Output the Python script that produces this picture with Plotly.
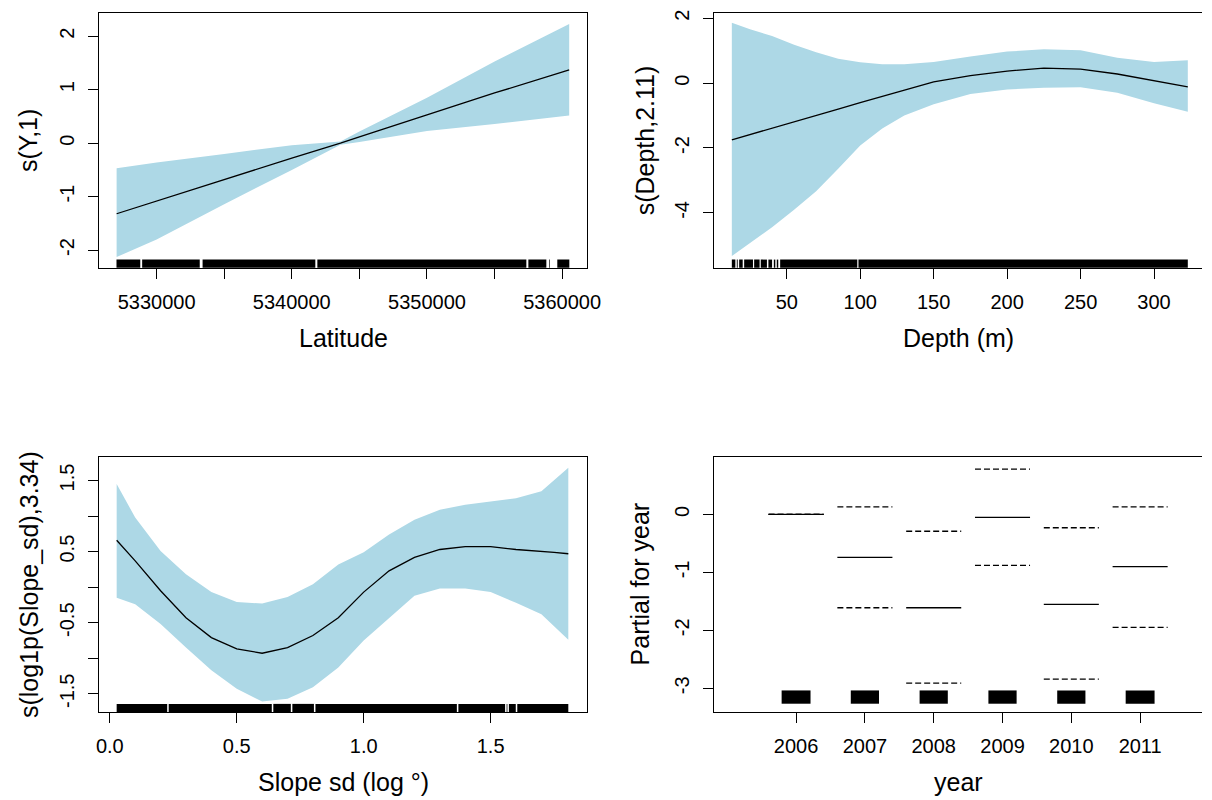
import plotly.graph_objects as go

# ---------------- data ----------------
# Panel 1: s(Y,1) vs Latitude
lat_x = [5327040, 5330000, 5335000, 5340000, 5343600, 5345000, 5350000, 5355000, 5360520]
lat_fit = [-1.32, -1.08, -0.68, -0.28, 0.00, 0.12, 0.53, 0.94, 1.37]
lat_upper = [-0.47, -0.36, -0.20, -0.04, 0.03, 0.22, 0.85, 1.53, 2.23]
lat_lower = [-2.13, -1.80, -1.14, -0.50, -0.03, 0.02, 0.23, 0.36, 0.52]
lat_rug = [(5327031, 5328790), (5328930, 5333190), (5333400, 5341740),
           (5341890, 5357350), (5357500, 5358830), (5359030, 5359080),
           (5359640, 5360530)]
lat_ticks = [5330000, 5340000, 5350000, 5360000]
lat_minor_ticks = [5335000, 5345000, 5355000]
lat_yticks = [-2, -1, 0, 1, 2]

# Panel 2: s(Depth,2.11) vs Depth
depth_x = [12.6, 25, 40, 55, 70, 85, 100, 115, 130, 150, 175, 200, 225, 250, 275, 300, 323]
depth_fit = [-1.75, -1.59, -1.40, -1.20, -1.00, -0.80, -0.60, -0.41, -0.22, 0.04, 0.23,
             0.37, 0.46, 0.43, 0.28, 0.07, -0.12]
depth_upper = [1.86, 1.66, 1.45, 1.18, 0.95, 0.75, 0.64, 0.58, 0.58, 0.65, 0.82,
               0.97, 1.04, 1.01, 0.78, 0.65, 0.70]
depth_lower = [-5.33, -4.93, -4.44, -3.90, -3.33, -2.64, -1.92, -1.40, -1.00, -0.65, -0.34,
               -0.20, -0.14, -0.13, -0.30, -0.62, -0.88]
depth_rug = [(12.6, 15.0), (16.0, 16.6), (17.6, 20.0), (21.0, 27.0), (27.8, 31.5),
             (32.3, 36.5), (37.5, 40.0), (41.2, 42.2), (43.2, 44.2), (45.5, 98.0),
             (98.8, 323.0)]
depth_ticks = [50, 100, 150, 200, 250, 300]
depth_yticks = [-4, -2, 0, 2]

# Panel 3: s(log1p(Slope_sd),3.34) vs Slope sd
slope_x = [0.027, 0.1, 0.2, 0.3, 0.4, 0.5, 0.6, 0.7, 0.8, 0.9, 1.0, 1.1, 1.2, 1.3,
           1.4, 1.5, 1.6, 1.7, 1.75, 1.806]
slope_fit = [0.66, 0.37, -0.05, -0.43, -0.71, -0.87, -0.93, -0.85, -0.68, -0.43, -0.07,
             0.23, 0.42, 0.53, 0.57, 0.57, 0.53, 0.51, 0.49, 0.47]
slope_upper = [1.45, 0.98, 0.51, 0.18, -0.07, -0.21, -0.23, -0.14, 0.04, 0.32, 0.49,
               0.74, 0.95, 1.09, 1.16, 1.20, 1.25, 1.35, 1.50, 1.68]
slope_lower = [-0.15, -0.24, -0.52, -0.85, -1.17, -1.43, -1.61, -1.57, -1.41, -1.13, -0.75,
               -0.43, -0.12, -0.02, -0.02, -0.07, -0.22, -0.38, -0.55, -0.74]
slope_rug = [(0.027, 0.226), (0.232, 0.638), (0.644, 0.713), (0.719, 0.804),
             (0.810, 1.367), (1.373, 1.557), (1.563, 1.566), (1.572, 1.599),
             (1.605, 1.806)]
slope_ticks = [0.0, 0.5, 1.0, 1.5]
slope_yticks = [-1.5, -0.5, 0.5, 1.5]
slope_minor_yticks = [-1.0, 0.0, 1.0]

# Panel 4: Partial for year
years = [2006, 2007, 2008, 2009, 2010, 2011]
year_fit = [0.00, -0.74, -1.61, -0.05, -1.55, -0.90]
year_upper = [0.00, 0.13, -0.29, 0.78, -0.23, 0.13]
year_lower = [0.00, -1.61, -2.91, -0.88, -2.84, -1.95]
year_rug_width = [0.42, 0.41, 0.41, 0.41, 0.41, 0.42]
year_yticks = [-3, -2, -1, 0]

# ---------------- style ----------------
W, H = 1212, 800
OFF = 8  # browser default body margin, compensated
BAND = "#ADD8E6"
FONT = "Liberation Sans, Arial, sans-serif"
TICK_FONT = 20
TITLE_FONT = 25
SEG_HALF = 0.4
RUG_FRAC = 0.032
YEAR_RUG_Y = (-3.265, -3.036)


def dom_x(a, b):
    return [(a - OFF) / W, min((b - OFF) / W, 1.0)]


def dom_y(top, bottom):
    return [1 - (bottom - OFF) / H, 1 - (top - OFF) / H]


fig = go.Figure()


def names(k):
    return ("x" if k == 1 else f"x{k}"), ("y" if k == 1 else f"y{k}")


def add_smooth(k, xs, fit, up, lo):
    xa, ya = names(k)
    fig.add_trace(go.Scatter(x=list(xs) + list(xs)[::-1], y=list(up) + list(lo)[::-1],
                             fill="toself", fillcolor=BAND, mode="lines",
                             line=dict(width=0, color=BAND), xaxis=xa, yaxis=ya,
                             hoverinfo="skip", showlegend=False))
    fig.add_trace(go.Scatter(x=xs, y=fit, mode="lines",
                             line=dict(color="black", width=1.3),
                             xaxis=xa, yaxis=ya, showlegend=False))


def add_rug(k, segs):
    xa, ya = names(k)
    for a, b in segs:
        fig.add_shape(type="rect", xref=xa, yref=f"{ya} domain", x0=a, x1=b,
                      y0=0, y1=RUG_FRAC, fillcolor="black", line=dict(width=0),
                      layer="above")


add_smooth(1, lat_x, lat_fit, lat_upper, lat_lower)
add_rug(1, lat_rug)
add_smooth(2, depth_x, depth_fit, depth_upper, depth_lower)
add_rug(2, depth_rug)
add_smooth(3, slope_x, slope_fit, slope_upper, slope_lower)
add_rug(3, slope_rug)

# year panel
for vals, dash in ((year_upper, "6px,3px"), (year_lower, "6px,3px"), (year_fit, "solid")):
    xs, ys = [], []
    for yr, v in zip(years, vals):
        xs += [yr - SEG_HALF, yr + SEG_HALF, None]
        ys += [v, v, None]
    fig.add_trace(go.Scatter(x=xs, y=ys, mode="lines",
                             line=dict(color="black", width=1.3, dash=dash),
                             xaxis="x4", yaxis="y4", showlegend=False))
for yr, w in zip(years, year_rug_width):
    fig.add_shape(type="rect", xref="x4", yref="y4", x0=yr - w / 2, x1=yr + w / 2,
                  y0=YEAR_RUG_Y[0], y1=YEAR_RUG_Y[1], fillcolor="black",
                  line=dict(width=0))


def fmt(v):
    return f"{v:g}"


def axis(**kw):
    d = dict(showline=True, linecolor="black", linewidth=1, ticks="outside", ticklen=10,
             tickwidth=1, tickcolor="black", showgrid=False, zeroline=False,
             tickfont=dict(family=FONT, size=TICK_FONT, color="black"),
             tickmode="array", fixedrange=True, ticklabeloverflow="allow")
    d.update(kw)
    return d


LEFT = (97.4, 592.3)
RIGHT = (721.2, 1216.0)
TOP = (10.0, 265.7)
BOT = (455.3, 711.7)

layout = dict(
    width=W, height=H, paper_bgcolor="white", plot_bgcolor="white",
    margin=dict(l=0, r=0, t=0, b=0), showlegend=False,
    xaxis=axis(domain=dom_x(*LEFT), anchor="y", range=[5325748, 5361845],
               tickvals=lat_ticks, ticktext=[str(v) for v in lat_ticks], mirror=True,
               ticklabelstandoff=6,
               minor=dict(tickmode="array", tickvals=lat_minor_ticks, ticks="outside",
                          ticklen=10, tickwidth=1, tickcolor="black")),
    yaxis=axis(domain=dom_y(*TOP), anchor="x", range=[-2.33, 2.436],
               tickvals=lat_yticks, ticktext=[fmt(v) for v in lat_yticks],
               tickangle=-90, mirror=True, ticklabelstandoff=6),
    xaxis2=axis(domain=dom_x(*RIGHT), anchor="y2", range=[0.6, 332.7],
                tickvals=depth_ticks, ticktext=[fmt(v) for v in depth_ticks], mirror=True,
                ticklabelstandoff=6),
    yaxis2=axis(domain=dom_y(*TOP), anchor="x2", range=[-5.69, 2.16],
                tickvals=depth_yticks, ticktext=[fmt(v) for v in depth_yticks],
                tickangle=-90, mirror=False, ticklabelstandoff=6),
    xaxis3=axis(domain=dom_x(*LEFT), anchor="y3", range=[-0.042, 1.880],
                tickvals=slope_ticks, ticktext=[f"{v:.1f}" for v in slope_ticks],
                mirror=True, ticklabelstandoff=6),
    yaxis3=axis(domain=dom_y(*BOT), anchor="x3", range=[-1.758, 1.837],
                tickvals=slope_yticks, ticktext=[fmt(v) for v in slope_yticks],
                tickangle=-90, mirror=True, ticklabelstandoff=6,
                minor=dict(tickmode="array", tickvals=slope_minor_yticks, ticks="outside",
                           ticklen=10, tickwidth=1, tickcolor="black")),
    xaxis4=axis(domain=dom_x(*RIGHT), anchor="y4", range=[2004.81, 2011.90],
                tickvals=years, ticktext=[str(v) for v in years], mirror=True,
                ticklabelstandoff=6),
    yaxis4=axis(domain=dom_y(*BOT), anchor="x4", range=[-3.409, 0.997],
                tickvals=year_yticks, ticktext=[fmt(v) for v in year_yticks],
                tickangle=-90, mirror=False, ticklabelstandoff=6),
)
fig.update_layout(**layout)


def title(text, x, y, angle=0):
    fig.add_annotation(text=text, x=(x - OFF) / W, y=1 - (y - OFF) / H, xref="paper",
                       yref="paper", showarrow=False, textangle=angle, xanchor="center",
                       yanchor="middle",
                       font=dict(family=FONT, size=TITLE_FONT, color="black"))


title("Latitude", (LEFT[0] + LEFT[1]) / 2, 336.3)
title("Depth (m)", (RIGHT[0] + RIGHT[1]) / 2, 336.3)
title("Slope sd (log °)", (LEFT[0] + LEFT[1]) / 2, 782.3)
title("year", (RIGHT[0] + RIGHT[1]) / 2, 782.3)
title("s(Y,1)", 26, (TOP[0] + TOP[1]) / 2, -90)
title("s(Depth,2.11)", 651, (TOP[0] + TOP[1]) / 2, -90)
title("s(log1p(Slope_sd),3.34)", 27, (BOT[0] + BOT[1]) / 2, -90)
title("Partial for year", 646, (BOT[0] + BOT[1]) / 2, -90)

fig.write_html("out.html")
